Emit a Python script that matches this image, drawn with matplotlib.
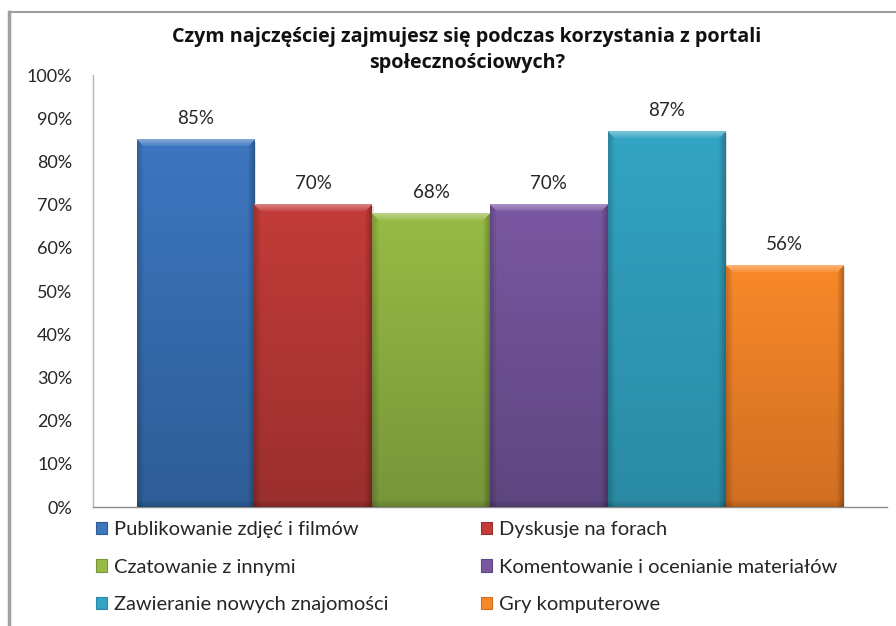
import numpy as np
import matplotlib
matplotlib.use("Agg")
import matplotlib.pyplot as plt
from matplotlib.patches import Rectangle
from matplotlib.lines import Line2D
from matplotlib.colors import to_rgb

plt.rcParams['font.family'] = ['Lato', 'DejaVu Sans']

# ---- data ----
categories = ["Publikowanie zdjęć i filmów", "Dyskusje na forach",
              "Czatowanie z innymi", "Komentowanie i ocenianie materiałów",
              "Zawieranie nowych znajomości", "Gry komputerowe"]
values = [0.85, 0.70, 0.68, 0.70, 0.87, 0.56]
value_labels = ["85%", "70%", "68%", "70%", "87%", "56%"]
yticks = [0.0, 0.1, 0.2, 0.3, 0.4, 0.5, 0.6, 0.7, 0.8, 0.9, 1.0]
ytick_labels = ["0%", "10%", "20%", "30%", "40%", "50%", "60%", "70%", "80%", "90%", "100%"]
title = "Czym najczęściej zajmujesz się podczas korzystania z portali\nspołecznościowych?"

top_colors = ["#3d76c0", "#c33c39", "#97bb45", "#7a57a1", "#33a4c3", "#f8892a"]
bot_colors = ["#2e5d96", "#9a2f2d", "#77953a", "#5e4680", "#2a8aa3", "#d06e22"]

W, H, DPI = 8.96, 6.26, 100
fig = plt.figure(figsize=(W, H), dpi=DPI)
ax = fig.add_axes([93 / 896, 1 - 507 / 626, (887 - 93) / 896, (507 - 75) / 626])

x = np.arange(len(values))
bars = ax.bar(x, values, width=1.0, color="none", edgecolor="none", zorder=2)
ax.set_xlim(-0.5 - 0.37, len(values) - 0.5 + 0.37)
ax.set_ylim(0, 1.0)

# gradient / bevel fill for each bar, built from the bar patches
ax_h_px = (507 - 75)
ax_w_px = (887 - 93)
xspan = ax.get_xlim()[1] - ax.get_xlim()[0]
for b, ct, cb in zip(bars, top_colors, bot_colors):
    bx, bw, bh = b.get_x(), b.get_width(), b.get_height()
    hp = max(int(round(bh * ax_h_px)), 2)
    wp = max(int(round(bw * ax_w_px / xspan)), 2)
    t = np.linspace(0, 1, hp)[:, None]
    c0, c1 = np.array(to_rgb(ct)), np.array(to_rgb(cb))
    img = (c0[None, None, :] * (1 - t[..., None]) + c1[None, None, :] * t[..., None])
    img = np.repeat(img, wp, axis=1)
    bev = 7
    # top highlight band
    for i in range(bev):
        f = 0.30 * (1 - i / bev) + 0.05
        img[i, i:wp - i, :] = img[i, i:wp - i, :] + (1 - img[i, i:wp - i, :]) * f
    # side darkening
    for j in range(bev):
        f = 0.18 * (1 - j / bev)
        img[j + 1:, j, :] *= (1 - f)
        img[j + 1:, wp - 1 - j, :] *= (1 - f * 1.4)
    # bottom darkening
    for i in range(bev):
        f = 0.15 * (1 - i / bev)
        img[hp - 1 - i, :, :] *= (1 - f)
    img = np.clip(img, 0, 1)
    # soft shadow
    ax.add_patch(Rectangle((bx + 0.012, 0), bw, bh - 0.004, facecolor="#000000",
                           alpha=0.12, edgecolor="none", zorder=1))
    ax.imshow(img, extent=(bx, bx + bw, 0, bh), aspect="auto",
              interpolation="bilinear", zorder=3)

ax.set_xlim(-0.5 - 0.37, len(values) - 0.5 + 0.37)
ax.set_ylim(0, 1.0)

for b, lab in zip(bars, value_labels):
    ax.annotate(lab, (b.get_x() + b.get_width() / 2, b.get_height()),
                xytext=(0, 15), textcoords="offset points",
                ha="center", va="center", fontsize=13.5, color="#262626", zorder=4)

ax.set_yticks(yticks)
ax.set_yticklabels(ytick_labels, fontsize=13, color="#262626")
ax.tick_params(axis="y", length=0, pad=15)
ax.set_xticks([])
for s in ["top", "right"]:
    ax.spines[s].set_visible(False)
ax.spines["left"].set_color("#b4b4b4")
ax.spines["bottom"].set_color("#8c8c8c")
ax.spines["left"].set_linewidth(1.0)
ax.spines["bottom"].set_linewidth(1.0)

fig.text(467 / 896, 1 - 50 / 626, title, ha="center", va="center",
         fontsize=14.2, fontweight="bold", color="#111111", linespacing=1.38,
         family=["Open Sans", "DejaVu Sans"])

# frame
fig.add_artist(Line2D([9 / 896, 9 / 896], [0, 1 - 12 / 626], color="#a0a0a0", lw=2.5))
fig.add_artist(Line2D([9 / 896, 1], [1 - 12 / 626, 1 - 12 / 626], color="#a0a0a0", lw=1.5))

# legend filled row by row (as in reference): reorder for matplotlib's column-major fill
order = [0, 2, 4, 1, 3, 5]
handles = [Rectangle((0, 0), 1, 1, facecolor=top_colors[i], edgecolor=bot_colors[i], lw=0.8)
           for i in order]
labels = [categories[i] for i in order]
leg = fig.legend(handles, labels, ncol=2, loc="upper left",
                 bbox_to_anchor=(90 / 896, 1 - 515 / 626), frameon=False,
                 fontsize=14.5, handlelength=0.55, handleheight=0.55, handletextpad=0.35,
                 columnspacing=4.6, labelspacing=1.02, borderaxespad=0, borderpad=0.3)
for t in leg.get_texts():
    t.set_color("#262626")

fig.savefig("out.png", dpi=DPI)
